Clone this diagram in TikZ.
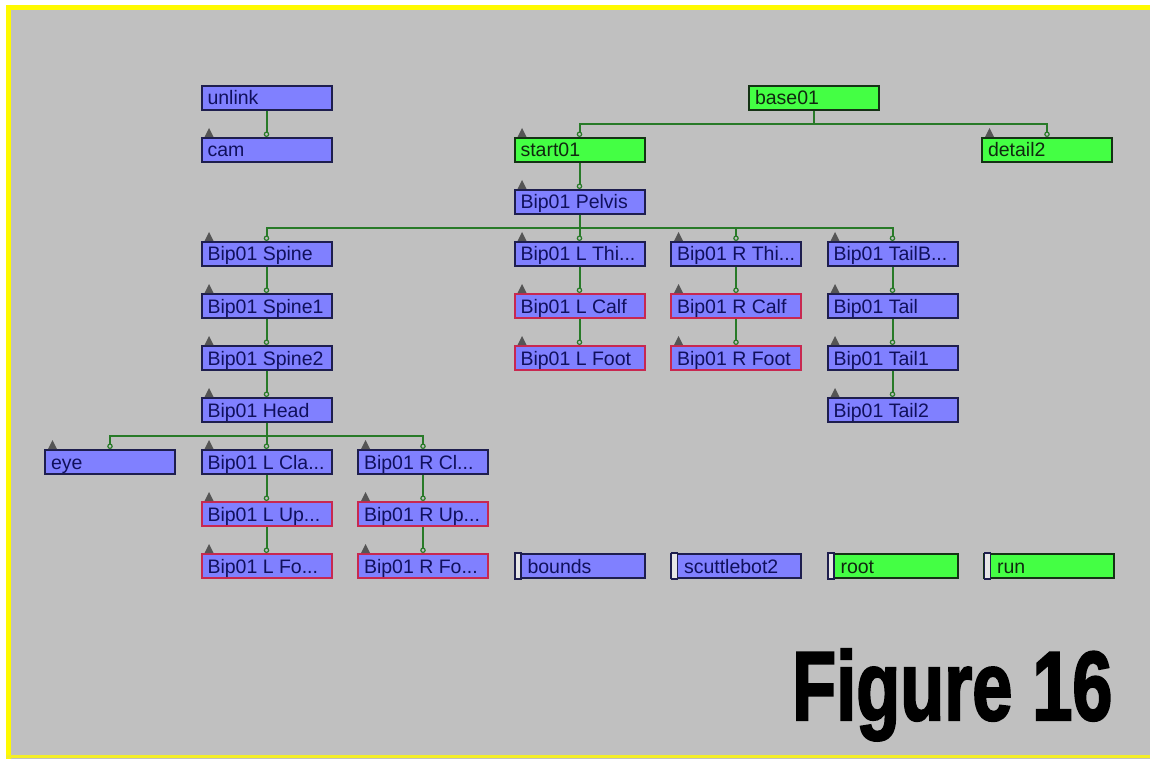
\documentclass[tikz,border=0pt]{standalone}
\usepackage{fontspec}
\setmainfont{Liberation Sans}
\newfontfamily\figfont[BoldFont={Liberation Sans Bold},BoldFeatures={FakeBold=2.5}]{Liberation Sans}
\usetikzlibrary{arrows.meta}

\definecolor{panel}{RGB}{192,192,192}
\definecolor{frameyellow}{RGB}{255,250,0}
\definecolor{bonefill}{RGB}{128,128,255}
\definecolor{objfill}{RGB}{68,255,68}
\definecolor{navyedge}{RGB}{30,30,78}
\definecolor{rededge}{RGB}{200,40,80}
\definecolor{greenedge}{RGB}{20,50,20}
\definecolor{linkgreen}{RGB}{40,122,40}
\definecolor{markgray}{RGB}{85,85,85}
\definecolor{navytext}{RGB}{16,16,92}
\definecolor{greentext}{RGB}{16,40,16}

\tikzset{
  box/.style={draw, line width=2pt, anchor=north west, minimum height=24pt,
    inner xsep=6pt, inner ysep=0pt, text height=14pt, text depth=0pt,
    font=\fontsize{19.5}{22}\selectfont},
  bone/.style={box, fill=bonefill, draw=navyedge, text=navytext},
  limb/.style={box, fill=bonefill, draw=rededge, text=navytext},
  obj/.style={box, fill=objfill, draw=greenedge, text=greentext},
  link/.style={draw=linkgreen, line width=2pt,
    -{Circle[length=5.5pt,width=5.5pt,fill=panel,line width=1.2pt]}},
  tri/.style={fill=markgray},
  tagbar/.style={draw=navyedge, line width=1.3pt, fill=white!60!panel},
}

% box helper: style, name, x, y, label
\newcommand\bx[5]{\node[#1] (#2) at (#3,#4) {\makebox[118pt][l]{#5}};}
% small triangle above the top-left corner of a linked box
\newcommand\pmark[1]{\fill[tri] ([xshift=4pt]#1.north west) -- ([xshift=8.5pt,yshift=9pt]#1.north west) -- ([xshift=13pt]#1.north west) -- cycle;}
% vertical tag at the left edge of an unlinked box
\newcommand\tagbox[1]{\draw[tagbar] ([xshift=1.5pt]#1.north west) rectangle ([xshift=7.5pt]#1.south west);}

\begin{document}
\begin{tikzpicture}[x=1pt,y=-1pt]
\useasboundingbox (0,0) rectangle (1150,759);
\fill[white] (0,0) rectangle (1150,759);
\fill[panel] (6,5) rectangle (1150,759);
% yellow frame
\draw[frameyellow, line width=5pt] (8.5,5) -- (8.5,759);
\draw[frameyellow, line width=5pt] (6,7.5) -- (1150,7.5);
\draw[frameyellow!80!panel, line width=3.5pt] (6,756.5) -- (1150,756.5);

% bus levels
\coordinate (busA) at (0,124);
\coordinate (busB) at (0,228);
\coordinate (busC) at (0,436);

% boxes
\bx{bone}{unlink}{200.5}{85}{unlink}
\bx{bone}{cam}{200.5}{137}{cam}
\bx{obj}{base}{748}{85}{base01}
\bx{obj}{start}{513.5}{137}{start01}
\bx{obj}{detail}{981}{137}{detail2}
\bx{bone}{pelvis}{513.5}{189}{Bip01 Pelvis}

\bx{bone}{spine}{200.5}{241}{Bip01 Spine}
\bx{bone}{lthigh}{513.5}{241}{Bip01 L Thi...}
\bx{bone}{rthigh}{670}{241}{Bip01 R Thi...}
\bx{bone}{tailbase}{826.5}{241}{Bip01 TailB...}

\bx{bone}{spineone}{200.5}{293}{Bip01 Spine1}
\bx{limb}{lcalf}{513.5}{293}{Bip01 L Calf}
\bx{limb}{rcalf}{670}{293}{Bip01 R Calf}
\bx{bone}{tail}{826.5}{293}{Bip01 Tail}

\bx{bone}{spinetwo}{200.5}{345}{Bip01 Spine2}
\bx{limb}{lfoot}{513.5}{345}{Bip01 L Foot}
\bx{limb}{rfoot}{670}{345}{Bip01 R Foot}
\bx{bone}{tailone}{826.5}{345}{Bip01 Tail1}

\bx{bone}{head}{200.5}{397}{Bip01 Head}
\bx{bone}{tailtwo}{826.5}{397}{Bip01 Tail2}

\bx{bone}{eye}{44}{449}{eye}
\bx{bone}{lclav}{200.5}{449}{Bip01 L Cla...}
\bx{bone}{rclav}{357}{449}{Bip01 R Cl...}

\bx{limb}{luparm}{200.5}{501}{Bip01 L Up...}
\bx{limb}{ruparm}{357}{501}{Bip01 R Up...}

\bx{limb}{lfore}{200.5}{553}{Bip01 L Fo...}
\bx{limb}{rfore}{357}{553}{Bip01 R Fo...}
\bx{bone}{bounds}{513.5}{553}{\hspace{7pt}bounds}
\bx{bone}{scuttle}{670}{553}{\hspace{7pt}scuttlebot2}
\bx{obj}{root}{826.5}{553}{\hspace{7pt}root}
\bx{obj}{run}{983}{553}{\hspace{7pt}run}

\tagbox{bounds}
\tagbox{scuttle}
\tagbox{root}
\tagbox{run}

% straight parent-child links
\foreach \p/\c in {unlink/cam, start/pelvis, spine/spineone, spineone/spinetwo,
  spinetwo/head, lthigh/lcalf, lcalf/lfoot, rthigh/rcalf, rcalf/rfoot,
  tailbase/tail, tail/tailone, tailone/tailtwo, lclav/luparm, luparm/lfore,
  rclav/ruparm, ruparm/rfore}
  {\draw[link] (\p.south) -- (\c.north);}

% links through a shared bus
\foreach \c in {start, detail}
  {\draw[link] (base.south) -- (base.south |- busA) -| (\c.north);}
\foreach \c in {spine, lthigh, rthigh, tailbase}
  {\draw[link] (pelvis.south) -- (pelvis.south |- busB) -| (\c.north);}
\foreach \c in {eye, lclav, rclav}
  {\draw[link] (head.south) -- (head.south |- busC) -| (\c.north);}

% parent markers
\foreach \n in {cam, start, detail, pelvis, spine, lthigh, rthigh, tailbase,
  spineone, lcalf, rcalf, tail, spinetwo, lfoot, rfoot, tailone, head, tailtwo,
  eye, lclav, rclav, luparm, ruparm, lfore, rfore}
  {\pmark{\n}}

% caption
\node[anchor=base west, inner sep=0pt] (caption) at (792,720)
  {\scalebox{0.735}[1]{\figfont\bfseries\fontsize{98}{98}\selectfont Figure 16}};
\end{tikzpicture}
\end{document}
